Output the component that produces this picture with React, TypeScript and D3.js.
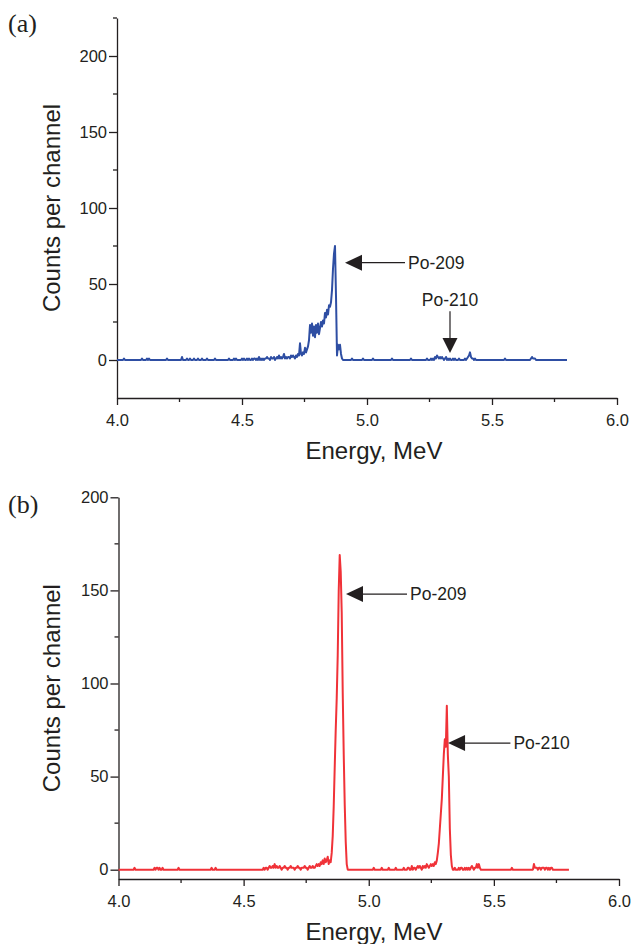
import React, { useRef, useEffect } from 'react';
import * as d3 from 'd3';

// channel calibration of the spectra
const CHANNEL_START = 4.0; // MeV
const CHANNEL_WIDTH = 0.004; // MeV per channel

// (a) counts per channel, 4.000 .. 5.800 MeV (25 channels per line)
const countsA = [
  0,0,0,0,0,0,0,1,0,0,0,0,0,0,0,0,0,0,0,0,0,0,0,0,0,
  1,0,0,0,0,1,0,1,0,0,0,0,0,0,0,0,0,0,0,0,0,0,0,0,0,
  1,0,0,0,0,0,0,0,0,0,0,0,0,0,0,2,0,0,0,0,1,0,0,1,0,
  0,0,1,0,0,0,1,0,0,0,1,0,0,0,0,1,0,0,0,0,0,0,0,1,0,
  0,0,0,0,0,0,0,0,0,0,0,0,1,0,0,0,0,1,0,1,0,0,0,0,0,
  1,0,1,0,0,1,0,1,0,0,1,0,1,1,0,1,0,2,0,1,0,1,0,1,1,
  2,1,1,0,2,1,1,2,0,1,2,1,3,1,2,1,2,4,1,2,1,2,2,1,3,
  2,3,2,1,3,2,4,3,11,4,3,5,4,8,5,7,9,13,23,18,24,16,22,15,23,
  18,24,17,21,25,22,26,24,31,28,33,30,36,35,38,46,60,70,75,42,3,10,7,10,4,
  1,0,0,0,0,0,0,0,0,0,1,0,0,0,0,0,0,0,0,0,0,1,0,0,0,
  0,0,0,0,0,0,1,0,0,0,0,0,0,0,0,0,0,0,0,0,0,0,0,0,0,
  1,0,0,0,0,0,0,0,0,0,0,0,0,0,0,0,0,0,0,1,0,0,0,0,0,
  0,0,0,0,0,0,0,0,0,0,1,0,0,0,1,0,1,0,2,1,3,2,1,2,1,
  2,1,0,1,2,0,1,0,1,0,0,1,0,1,0,0,0,1,0,0,0,0,0,1,0,
  1,2,3,5,2,1,1,0,1,0,0,0,0,0,0,0,0,0,0,0,0,0,0,0,0,
  0,0,0,0,0,0,0,0,0,0,0,0,0,1,0,0,0,0,0,0,0,0,0,0,0,
  0,0,0,0,0,0,0,0,0,0,0,0,0,0,1,2,1,1,1,0,0,0,0,0,0,
  0,0,0,0,0,0,0,0,0,0,0,0,0,0,0,0,0,0,0,0,0,0,0,0,0,0,
];

// (b) counts per channel, 4.000 .. 5.800 MeV
const countsB = [
  0,0,0,0,0,0,0,0,0,0,0,0,0,0,0,0,1,0,0,0,0,0,0,0,0,
  0,0,0,0,0,0,0,0,0,0,0,1,0,1,1,0,1,0,0,1,0,0,0,0,0,
  0,0,0,0,0,0,0,0,0,0,1,0,0,0,0,0,0,0,0,0,0,0,0,0,0,
  0,0,0,0,0,0,0,0,0,0,0,0,0,0,0,0,0,0,1,0,0,0,1,0,0,
  0,0,0,0,0,0,0,0,0,0,0,0,0,0,0,0,0,0,0,0,0,0,0,0,0,
  0,0,0,0,0,0,0,0,0,0,0,0,0,0,0,0,0,0,0,0,1,0,1,1,0,
  1,2,1,1,2,1,3,1,2,1,1,2,1,0,1,1,2,1,1,0,1,1,2,1,1,
  1,0,1,1,2,1,1,0,1,1,1,2,1,1,0,1,2,1,1,2,1,1,2,3,2,
  3,2,4,3,5,3,6,4,5,7,3,5,4,9,18,34,55,75,92,115,150,169,160,138,95,
  62,35,15,3,0,0,0,0,0,0,0,0,0,0,0,0,0,0,0,0,0,0,0,0,0,
  0,0,0,0,0,1,0,0,0,0,0,0,0,1,0,0,0,0,0,0,1,0,0,0,0,
  0,0,1,0,0,0,0,0,0,0,1,0,0,0,1,1,0,0,2,0,1,1,0,1,2,
  1,2,1,0,2,1,2,1,3,2,1,2,3,2,3,2,4,3,5,9,14,22,30,38,50,
  62,70,66,88,62,50,22,8,2,0,0,1,0,0,0,1,0,1,1,0,0,1,0,1,0,
  1,0,1,2,1,0,1,1,3,1,3,1,0,0,0,0,0,0,0,0,0,0,0,0,0,
  0,0,0,0,0,0,0,0,0,0,0,0,0,0,0,0,0,0,1,0,0,0,0,0,0,
  0,0,0,0,0,0,0,0,0,0,0,0,0,0,0,3,1,1,1,0,1,1,0,1,1,
  1,0,1,1,0,1,0,1,1,0,0,0,0,0,0,0,0,0,0,0,0,0,0,0,0,0,
];

const xTicks = [4.0, 4.5, 5.0, 5.5, 6.0];
const xMinorTicks = [4.25, 4.75, 5.25, 5.75];
const yTicks = [0, 50, 100, 150, 200];
const yMinorTicksA = [25, 75, 125, 175, 225];
const yMinorTicksB = [25, 75, 125, 175];

// peak labels: arrow tip and tail in data units (MeV, counts)
const notesA = [
  { label: 'Po-209', tip: [4.912, 64], tail: [5.152, 64] },
  { label: 'Po-210', tip: [5.332, 4.6], tail: [5.332, 32] },
];
const notesB = [
  { label: 'Po-209', tip: [4.909, 148], tail: [5.153, 148] },
  { label: 'Po-210', tip: [5.317, 68], tail: [5.566, 68] },
];

const INK = '#231f20';
const SANS = '"Liberation Sans", Arial, Helvetica, sans-serif';

const panels = [
  {
    name: '(a)', nameY: 32, counts: countsA, notes: notesA, color: '#2e4ea3',
    xRange: [117, 617], yDomain: [-25, 225], yRange: [398, 18], yMinor: yMinorTicksA,
  },
  {
    name: '(b)', nameY: 513, counts: countsB, notes: notesB, color: '#f03238',
    xRange: [118.5, 619], yDomain: [-5, 200], yRange: [879, 497.3], yMinor: yMinorTicksB,
  },
];

const App = () => {
  const ref = useRef<SVGSVGElement>(null);

  useEffect(() => {
    const svg = d3.select(ref.current);
    svg.selectAll('*').remove();

    panels.forEach(p => {
      const x = d3.scaleLinear().domain([4, 6]).range(p.xRange);
      const y = d3.scaleLinear().domain(p.yDomain).range(p.yRange);
      const x0 = p.xRange[0];
      const yBottom = p.yRange[0];
      const g = svg.append('g');

      // panel letter
      g.append('text')
        .attr('x', 8).attr('y', p.nameY)
        .attr('font-family', '"Liberation Serif", "Times New Roman", serif')
        .attr('font-size', 26).attr('fill', INK)
        .text(p.name);

      // x axis
      const xa = g.append('g')
        .attr('transform', `translate(0,${yBottom})`)
        .call(d3.axisBottom(x).tickValues(xTicks).tickFormat(d3.format('.1f')).tickSize(7).tickSizeOuter(0));
      xa.selectAll('.tick text')
        .attr('y', 16).attr('dy', '0.72em')
        .attr('font-family', SANS).attr('font-size', 16.5).attr('fill', INK);
      xa.append('g').selectAll('line').data(xMinorTicks).enter().append('line')
        .attr('x1', d => x(d)).attr('x2', d => x(d)).attr('y1', 0).attr('y2', 4);

      // y axis
      const ya = g.append('g')
        .attr('transform', `translate(${x0},0)`)
        .call(d3.axisLeft(y).tickValues(yTicks).tickSize(8).tickPadding(2).tickSizeOuter(0));
      ya.selectAll('.tick text')
        .attr('font-family', SANS).attr('font-size', 16.5).attr('fill', INK);
      ya.append('g').selectAll('line').data(p.yMinor).enter().append('line')
        .attr('x1', -4).attr('x2', 0).attr('y1', d => y(d)).attr('y2', d => y(d));

      [xa, ya].forEach(a => {
        a.selectAll('path, line').attr('stroke', INK).attr('stroke-width', 1.3);
      });

      // titles
      g.append('text')
        .attr('x', 374).attr('y', yBottom + 61)
        .attr('text-anchor', 'middle')
        .attr('font-family', SANS).attr('font-size', 24).attr('fill', INK)
        .text('Energy, MeV');
      g.append('text')
        .attr('transform', `translate(60,${(p.yRange[0] + p.yRange[1]) / 2}) rotate(-90)`)
        .attr('text-anchor', 'middle')
        .attr('font-family', SANS).attr('font-size', 24).attr('fill', INK)
        .text('Counts per channel');

      // spectrum
      const line = d3.line<number>()
        .x((d, i) => x(CHANNEL_START + i * CHANNEL_WIDTH))
        .y(d => y(d));
      g.append('path')
        .datum(p.counts)
        .attr('d', line)
        .attr('fill', 'none')
        .attr('stroke', p.color)
        .attr('stroke-width', 2)
        .attr('stroke-linejoin', 'round');

      // arrows
      p.notes.forEach(n => {
        const tx = x(n.tip[0]), ty = y(n.tip[1]);
        const ex = x(n.tail[0]), ey = y(n.tail[1]);
        const vertical = Math.abs(ex - tx) < 1;
        g.append('line')
          .attr('x1', vertical ? tx : tx + 15).attr('y1', vertical ? ty - 14 : ty)
          .attr('x2', ex).attr('y2', ey)
          .attr('stroke', INK).attr('stroke-width', 1.2);
        const head = vertical
          ? [[tx, ty], [tx - 7.5, ty - 15], [tx + 7.5, ty - 15]]
          : [[tx, ty], [tx + 17, ty - 8], [tx + 17, ty + 8]];
        g.append('path')
          .attr('d', d3.line()(head as [number, number][]) + 'Z')
          .attr('fill', INK);
        const t = g.append('text')
          .attr('font-family', SANS).attr('font-size', 17.5).attr('fill', INK)
          .text(n.label);
        if (vertical) {
          t.attr('x', ex).attr('y', ey - 5).attr('text-anchor', 'middle');
        } else {
          t.attr('x', ex + 3).attr('y', ey).attr('dy', '0.35em');
        }
      });
    });
  }, []);

  return (
    <svg
      ref={ref}
      width={634}
      height={944}
      style={{ position: 'absolute', left: 0, top: 0, background: '#fff' }}
    />
  );
};

export default App;
